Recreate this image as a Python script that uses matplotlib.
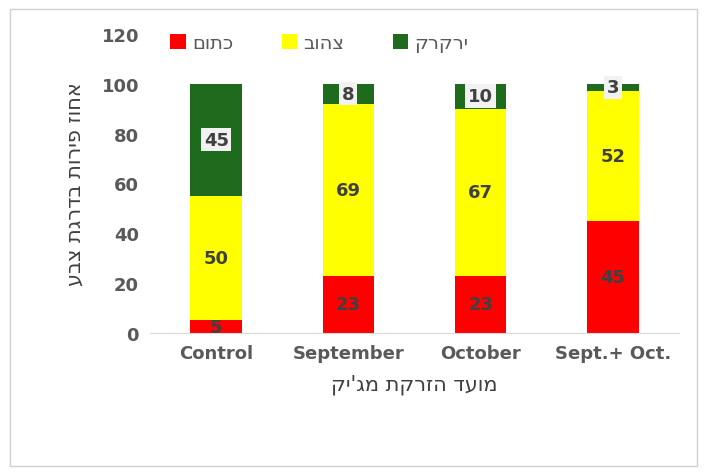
import matplotlib.pyplot as plt
import numpy as np

categories = ['Control', 'September', 'October', 'Sept.+ Oct.']
orange = [5, 23, 23, 45]
yellow = [50, 69, 67, 52]
green = [45, 8, 10, 3]
series_names = ['כתום', 'צהוב', 'ירקרק']

def rtl(s):
    return s[::-1]

fig = plt.figure(figsize=(7.05, 4.77), dpi=100)
ax = fig.add_axes([0.213, 0.30, 0.75, 0.627])
fig.patches.append(plt.Rectangle((0.014, 0.02), 0.975, 0.96, transform=fig.transFigure,
                                 fill=False, edgecolor='#d0d0d0', linewidth=1))

x = np.arange(len(categories))
w = 0.39
b1 = ax.bar(x, orange, w, color='#ff0000', label=rtl(series_names[0]))
b2 = ax.bar(x, yellow, w, bottom=orange, color='#ffff00', label=rtl(series_names[1]))
bottom3 = np.array(orange) + np.array(yellow)
b3 = ax.bar(x, green, w, bottom=bottom3, color='#1e6b1e', label=rtl(series_names[2]))

for i in range(len(x)):
    ax.text(x[i], orange[i] / 2, str(orange[i]), ha='center', va='center',
            fontsize=13, fontweight='bold', color='#404040')
    ax.text(x[i], orange[i] + yellow[i] / 2, str(yellow[i]), ha='center', va='center',
            fontsize=13, fontweight='bold', color='#404040')
    ax.text(x[i], bottom3[i] + green[i] / 2, str(green[i]), ha='center', va='center',
            fontsize=13, fontweight='bold', color='#404040',
            bbox=dict(facecolor='#f2f2f2', edgecolor='none', pad=2))

ax.set_xlim(-0.5, len(categories) - 0.5)
ax.set_ylim(0, 120)
ax.set_yticks(range(0, 121, 20))
ax.set_xticks(x)
ax.set_xticklabels(categories)
ax.tick_params(axis='both', length=0, labelsize=13, labelcolor='#595959', pad=8)
for t in ax.get_xticklabels() + ax.get_yticklabels():
    t.set_fontweight('bold')
for s in ['top', 'right', 'left']:
    ax.spines[s].set_visible(False)
ax.spines['bottom'].set_color('#d9d9d9')

ax.set_ylabel(rtl('אחוז פירות בדרגת צבע'), fontsize=15, color='#404040', labelpad=12)
ax.set_xlabel(rtl("מועד הזרקת מג'יק"), fontsize=15, color='#404040', labelpad=8)

ax.legend(loc='upper center', bbox_to_anchor=(0.32, 1.06), ncol=3, frameon=False,
          fontsize=14, handlelength=0.8, handleheight=0.8, columnspacing=2.5,
          handletextpad=0.3, markerfirst=True, labelcolor='#595959')

fig.savefig('out.png', dpi=100)
